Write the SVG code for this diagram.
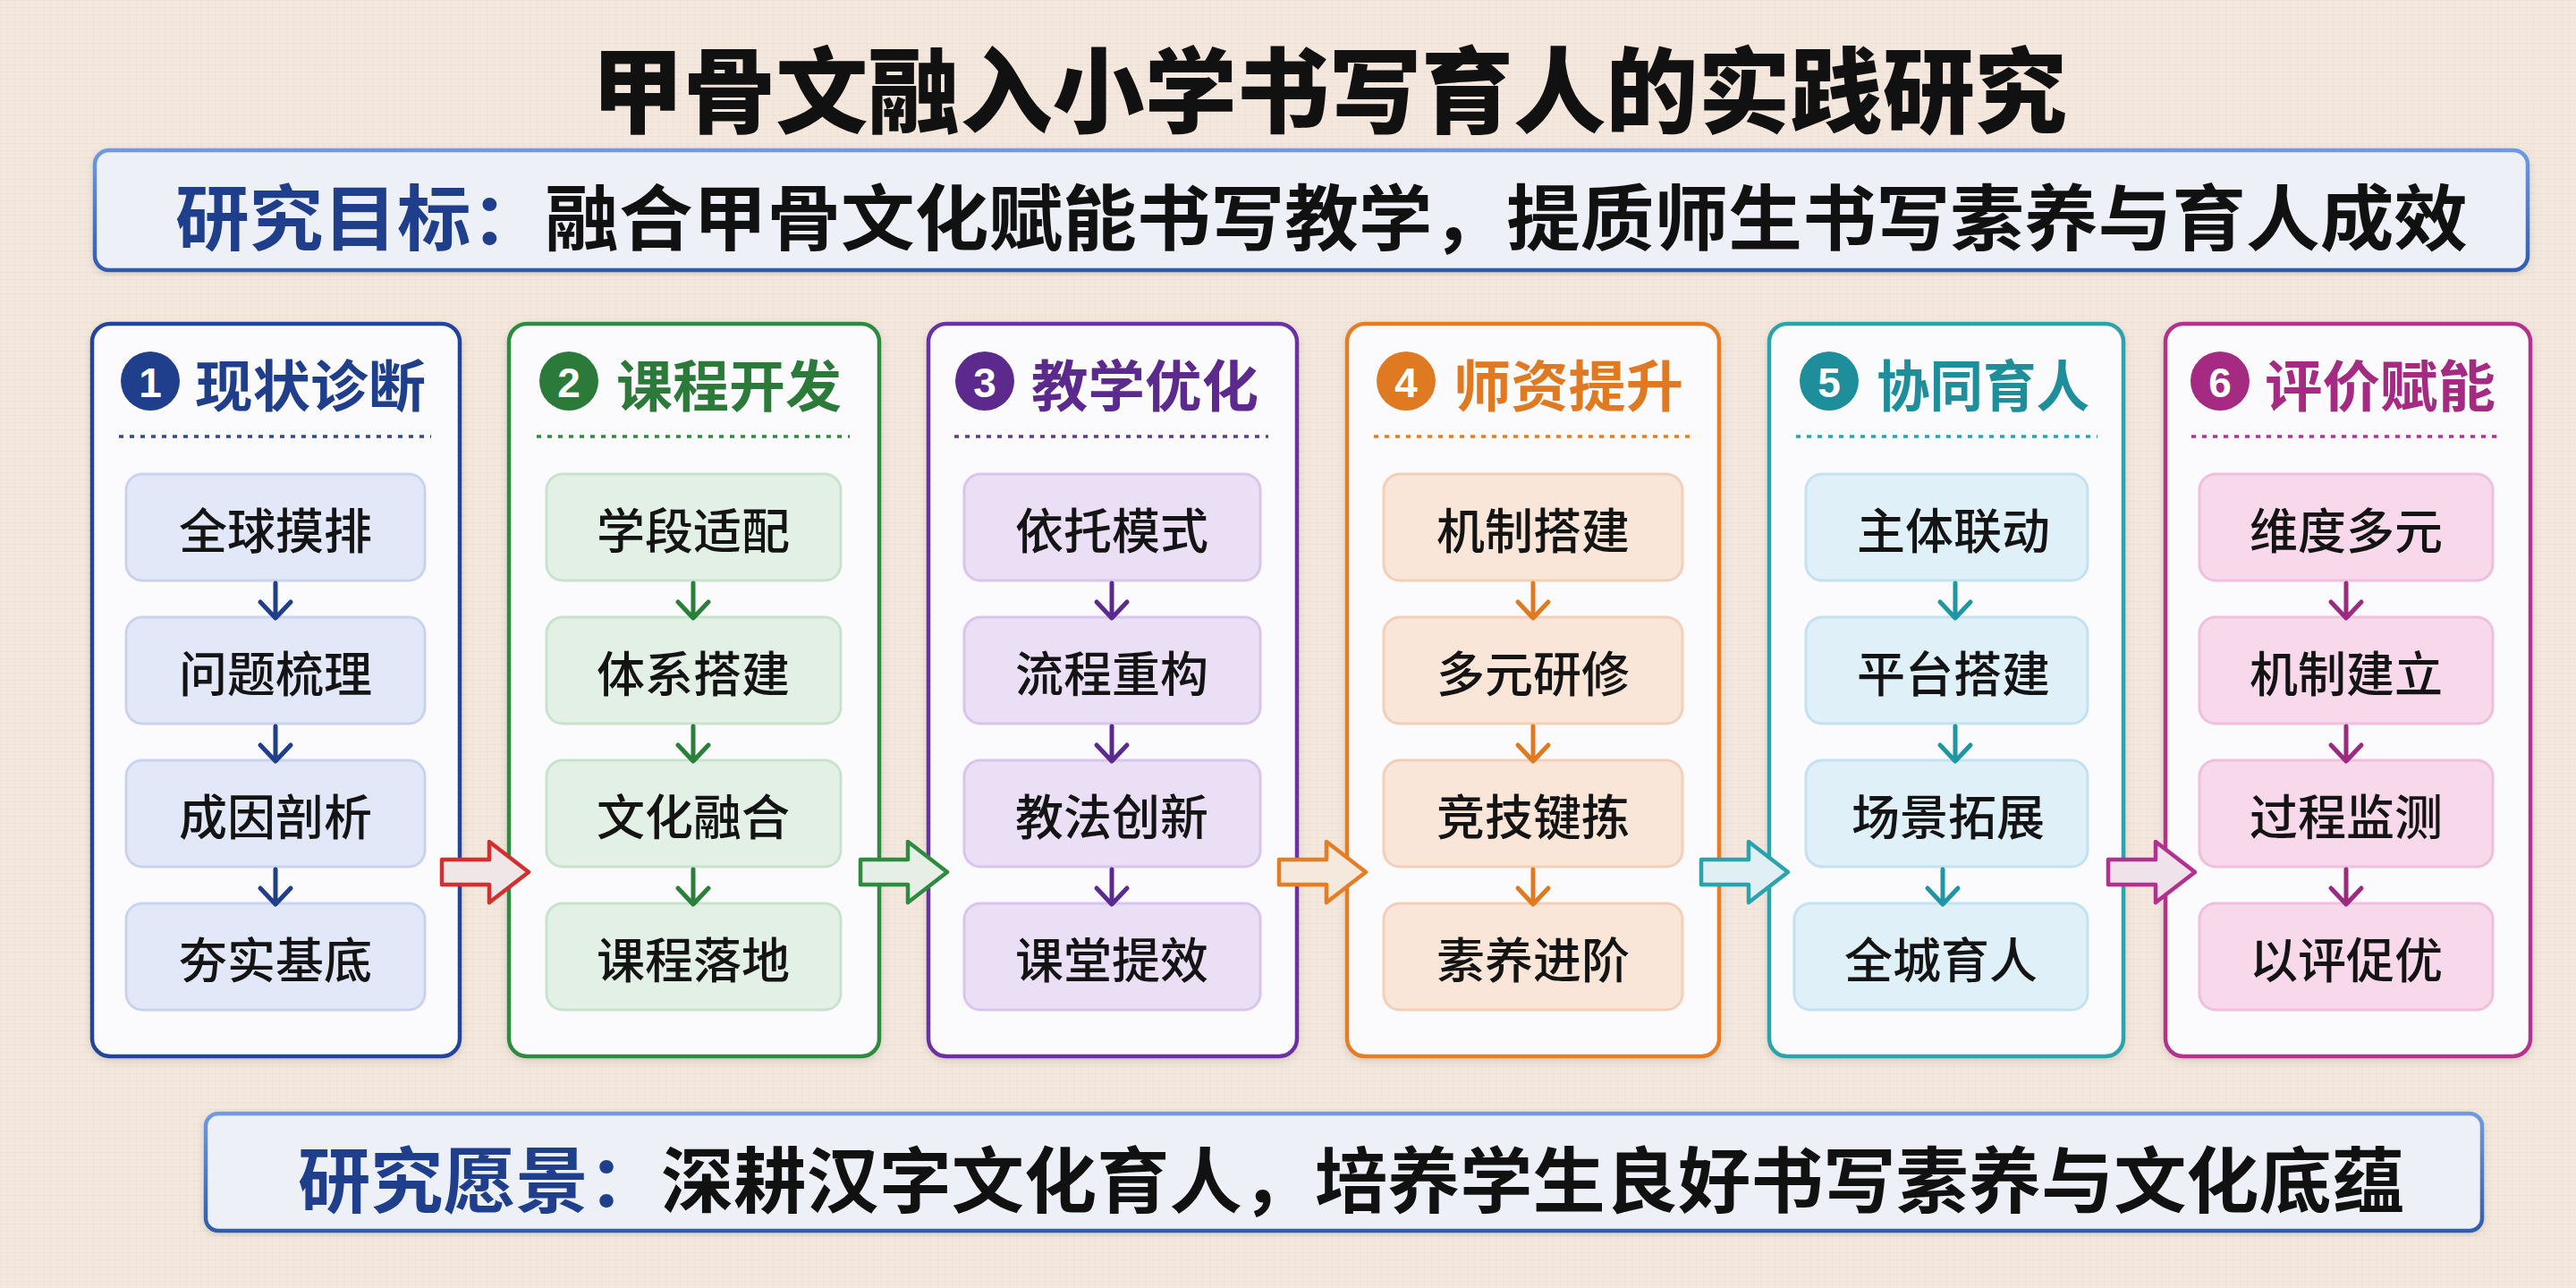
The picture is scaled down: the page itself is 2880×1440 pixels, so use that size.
<svg xmlns="http://www.w3.org/2000/svg" width="2880" height="1440" viewBox="0 0 2880 1440">
<defs>
<style>
.cjk{font-family:"Noto Sans CJK SC","Noto Sans",sans-serif}
.title{font-size:104px;font-weight:900;fill:#111;text-anchor:middle;dominant-baseline:central}
.banner{font-size:80px;font-weight:700;fill:#111;dominant-baseline:central}
.lead{fill:#1f3f8c}
.hdr{font-size:62px;font-weight:700;dominant-baseline:central}
.num{font-family:"Liberation Sans",Arial,sans-serif;font-size:46px;font-weight:700;fill:#fff;text-anchor:middle;dominant-baseline:central}
.item{font-size:54px;font-weight:500;fill:#141414;text-anchor:middle;dominant-baseline:central}
.col{fill:#fbfbfd;stroke-width:4.5}
.box{stroke-width:3}
.dots{stroke-width:3.5;stroke-dasharray:5 7;fill:none}
.down{fill:none;stroke-width:5;stroke-linecap:round;stroke-linejoin:round}
.flow{stroke-width:4.5;stroke-linejoin:round}
</style>
<filter id="sh" x="-5%" y="-5%" width="110%" height="110%">
<feDropShadow dx="0" dy="3" stdDeviation="4" flood-color="#000" flood-opacity="0.12"/>
</filter>
<pattern id="tex" width="8" height="8" patternUnits="userSpaceOnUse">
<rect width="8" height="8" fill="#f4e8de"/>
<rect width="8" height="1" fill="#efe0d4"/>
<rect width="1" height="8" fill="#f0e2d7"/>
</pattern>
<linearGradient id="bannerStroke" x1="0" y1="0" x2="0" y2="1">
<stop offset="0" stop-color="#6f9be0"/>
<stop offset="1" stop-color="#2f5cb0"/>
</linearGradient>
</defs>

<rect width="2880" height="1440" fill="url(#tex)"/>

<g id="title">
<text class="cjk title" x="1486" y="95" textLength="1650" lengthAdjust="spacingAndGlyphs">甲骨文融入小学书写育人的实践研究</text>
</g>

<g id="goal">
<rect x="106" y="168" width="2720" height="134" rx="16" fill="#eef0f8" stroke="url(#bannerStroke)" stroke-width="4.5" filter="url(#sh)"/>
<text class="cjk banner" x="196" y="238" textLength="2563" lengthAdjust="spacingAndGlyphs"><tspan class="lead">研究目标：</tspan>融合甲骨文化赋能书写教学，提质师生书写素养与育人成效</text>
</g>

<g id="col1">
<rect class="col" x="103" y="362" width="411" height="819" rx="20" stroke="#22449a" filter="url(#sh)"/>
<circle cx="168" cy="426" r="33" fill="#1f3f8c"/>
<text class="num" x="168" y="428">1</text>
<text class="cjk hdr" x="218" y="428" fill="#1f3f8c" textLength="258" lengthAdjust="spacingAndGlyphs">现状诊断</text>
<line class="dots" x1="133" y1="488" x2="482" y2="488" stroke="#2a4a9a"/>
<g fill="#e3e8f8" stroke="#c9d3f0">
<rect class="box" x="141" y="530" width="334" height="119" rx="18"/>
<rect class="box" x="141" y="690" width="334" height="119" rx="18"/>
<rect class="box" x="141" y="850" width="334" height="119" rx="18"/>
<rect class="box" x="141" y="1010" width="334" height="119" rx="18"/>
</g>
<text class="cjk item" x="308" y="590">全球摸排</text>
<text class="cjk item" x="308" y="750">问题梳理</text>
<text class="cjk item" x="308" y="910">成因剖析</text>
<text class="cjk item" x="308" y="1070">夯实基底</text>
</g>

<g id="col2">
<rect class="col" x="569" y="362" width="414" height="819" rx="20" stroke="#2f8a40" filter="url(#sh)"/>
<circle cx="636" cy="426" r="33" fill="#2b7a3a"/>
<text class="num" x="636" y="428">2</text>
<text class="cjk hdr" x="689" y="428" fill="#2b7a3a" textLength="252" lengthAdjust="spacingAndGlyphs">课程开发</text>
<line class="dots" x1="600" y1="488" x2="950" y2="488" stroke="#2f8a40"/>
<g fill="#e2f0e5" stroke="#c7e3cd">
<rect class="box" x="611" y="530" width="329" height="119" rx="18"/>
<rect class="box" x="611" y="690" width="329" height="119" rx="18"/>
<rect class="box" x="611" y="850" width="329" height="119" rx="18"/>
<rect class="box" x="611" y="1010" width="329" height="119" rx="18"/>
</g>
<text class="cjk item" x="775" y="590">学段适配</text>
<text class="cjk item" x="775" y="750">体系搭建</text>
<text class="cjk item" x="775" y="910">文化融合</text>
<text class="cjk item" x="775" y="1070">课程落地</text>
</g>

<g id="col3">
<rect class="col" x="1038" y="362" width="412" height="819" rx="20" stroke="#6b30a0" filter="url(#sh)"/>
<circle cx="1101" cy="426" r="33" fill="#5b2a8c"/>
<text class="num" x="1101" y="428">3</text>
<text class="cjk hdr" x="1153" y="428" fill="#5b2a8c" textLength="254" lengthAdjust="spacingAndGlyphs">教学优化</text>
<line class="dots" x1="1067" y1="488" x2="1418" y2="488" stroke="#6b30a0"/>
<g fill="#ebdff5" stroke="#d9c4ee">
<rect class="box" x="1078" y="530" width="331" height="119" rx="18"/>
<rect class="box" x="1078" y="690" width="331" height="119" rx="18"/>
<rect class="box" x="1078" y="850" width="331" height="119" rx="18"/>
<rect class="box" x="1078" y="1010" width="331" height="119" rx="18"/>
</g>
<text class="cjk item" x="1243" y="590">依托模式</text>
<text class="cjk item" x="1243" y="750">流程重构</text>
<text class="cjk item" x="1243" y="910">教法创新</text>
<text class="cjk item" x="1243" y="1070">课堂提效</text>
</g>

<g id="col4">
<rect class="col" x="1506" y="362" width="416" height="819" rx="20" stroke="#e47d25" filter="url(#sh)"/>
<circle cx="1572" cy="426" r="33" fill="#e07a22"/>
<text class="num" x="1572" y="428">4</text>
<text class="cjk hdr" x="1625" y="428" fill="#e07a22" textLength="257" lengthAdjust="spacingAndGlyphs">师资提升</text>
<line class="dots" x1="1536" y1="488" x2="1889" y2="488" stroke="#e47d25"/>
<g fill="#fae6d9" stroke="#f3cfb8">
<rect class="box" x="1547" y="530" width="334" height="119" rx="18"/>
<rect class="box" x="1547" y="690" width="334" height="119" rx="18"/>
<rect class="box" x="1547" y="850" width="334" height="119" rx="18"/>
<rect class="box" x="1547" y="1010" width="334" height="119" rx="18"/>
</g>
<text class="cjk item" x="1714" y="590">机制搭建</text>
<text class="cjk item" x="1714" y="750">多元研修</text>
<text class="cjk item" x="1714" y="910">竞技键拣</text>
<text class="cjk item" x="1714" y="1070">素养进阶</text>
</g>

<g id="col5">
<rect class="col" x="1978" y="362" width="396" height="819" rx="20" stroke="#2aa3ad" filter="url(#sh)"/>
<circle cx="2045" cy="426" r="33" fill="#1e8f9a"/>
<text class="num" x="2045" y="428">5</text>
<text class="cjk hdr" x="2098" y="428" fill="#1e8f9a" textLength="238" lengthAdjust="spacingAndGlyphs">协同育人</text>
<line class="dots" x1="2008" y1="488" x2="2345" y2="488" stroke="#2aa3ad"/>
<g fill="#dff0f8" stroke="#c3e1ef">
<rect class="box" x="2019" y="530" width="315" height="119" rx="18"/>
<rect class="box" x="2019" y="690" width="315" height="119" rx="18"/>
<rect class="box" x="2019" y="850" width="315" height="119" rx="18"/>
<rect class="box" x="2006" y="1010" width="328" height="119" rx="18"/>
</g>
<text class="cjk item" x="2184" y="590">主体联动</text>
<text class="cjk item" x="2184" y="750">平台搭建</text>
<text class="cjk item" x="2178" y="910">场景拓展</text>
<text class="cjk item" x="2170" y="1070">全城育人</text>
</g>

<g id="col6">
<rect class="col" x="2421" y="362" width="408" height="819" rx="20" stroke="#b2308e" filter="url(#sh)"/>
<circle cx="2482" cy="426" r="33" fill="#a52a82"/>
<text class="num" x="2482" y="428">6</text>
<text class="cjk hdr" x="2532" y="428" fill="#a52a82" textLength="258" lengthAdjust="spacingAndGlyphs">评价赋能</text>
<line class="dots" x1="2450" y1="488" x2="2797" y2="488" stroke="#b2308e"/>
<g fill="#f8d9ec" stroke="#efbfdc">
<rect class="box" x="2459" y="530" width="328" height="119" rx="18"/>
<rect class="box" x="2459" y="690" width="328" height="119" rx="18"/>
<rect class="box" x="2459" y="850" width="328" height="119" rx="18"/>
<rect class="box" x="2459" y="1010" width="328" height="119" rx="18"/>
</g>
<text class="cjk item" x="2623" y="590">维度多元</text>
<text class="cjk item" x="2623" y="750">机制建立</text>
<text class="cjk item" x="2623" y="910">过程监测</text>
<text class="cjk item" x="2623" y="1070">以评促优</text>
</g>

<g id="connectors">
<g class="down" stroke="#1f3f8c">
<path d="M308 652V690M291 673L308 691L325 673"/>
<path d="M308 812V850M291 833L308 851L325 833"/>
<path d="M308 972V1010M291 993L308 1011L325 993"/>
</g>
<g class="down" stroke="#2a7f3a">
<path d="M775 652V690M758 673L775 691L792 673"/>
<path d="M775 812V850M758 833L775 851L792 833"/>
<path d="M775 972V1010M758 993L775 1011L792 993"/>
</g>
<g class="down" stroke="#5a2a90">
<path d="M1243 652V690M1226 673L1243 691L1260 673"/>
<path d="M1243 812V850M1226 833L1243 851L1260 833"/>
<path d="M1243 972V1010M1226 993L1243 1011L1260 993"/>
</g>
<g class="down" stroke="#e07a22">
<path d="M1714 652V690M1697 673L1714 691L1731 673"/>
<path d="M1714 812V850M1697 833L1714 851L1731 833"/>
<path d="M1714 972V1010M1697 993L1714 1011L1731 993"/>
</g>
<g class="down" stroke="#1f96a3">
<path d="M2186 652V690M2169 673L2186 691L2203 673"/>
<path d="M2186 812V850M2169 833L2186 851L2203 833"/>
<path d="M2172 972V1010M2155 993L2172 1011L2189 993"/>
</g>
<g class="down" stroke="#9c2a80">
<path d="M2623 652V690M2606 673L2623 691L2640 673"/>
<path d="M2623 812V850M2606 833L2623 851L2640 833"/>
<path d="M2623 972V1010M2606 993L2623 1011L2640 993"/>
</g>
<polygon class="flow" points="494,961 547,961 547,941 591,975 547,1009 547,989 494,989" fill="#efe6e8" stroke="#d2302f"/>
<polygon class="flow" points="962,961 1015,961 1015,941 1059,975 1015,1009 1015,989 962,989" fill="#e6efe6" stroke="#2e8a3e"/>
<polygon class="flow" points="1430,961 1483,961 1483,941 1527,975 1483,1009 1483,989 1430,989" fill="#f5e8dc" stroke="#e47d25"/>
<polygon class="flow" points="1902,961 1955,961 1955,941 1999,975 1955,1009 1955,989 1902,989" fill="#e0eff3" stroke="#2aa3ad"/>
<polygon class="flow" points="2357,961 2410,961 2410,941 2454,975 2410,1009 2410,989 2357,989" fill="#f0e2ea" stroke="#b2308e"/>
</g>

<g id="vision">
<rect x="230" y="1245" width="2545" height="131" rx="14" fill="#eef0f8" stroke="url(#bannerStroke)" stroke-width="4.5" filter="url(#sh)"/>
<text class="cjk banner" x="333" y="1314" textLength="2355" lengthAdjust="spacingAndGlyphs"><tspan class="lead">研究愿景：</tspan>深耕汉字文化育人，培养学生良好书写素养与文化底蕴</text>
</g>
</svg>
